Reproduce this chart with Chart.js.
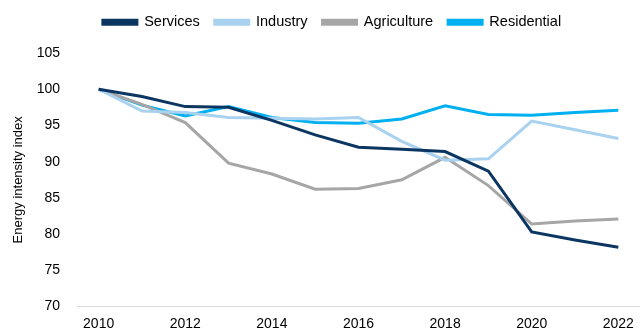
<!DOCTYPE html>
<html>
<head>
<meta charset="utf-8">
<script src="https://cdn.jsdelivr.net/npm/chart.js@4"></script>
<style>
  html, body { margin: 0; padding: 0; background: #fff; }
  #wrap { width: 643px; height: 332px; }
</style>
</head>
<body>
<div id="wrap"><canvas id="cntx_intensity"></canvas></div>
<script>
const years = ["2010","2011","2012","2013","2014","2015","2016","2017","2018","2019","2020","2021","2022"];
const services = [100, 99.0, 97.6, 97.5, 95.7, 93.7, 92.0, 91.7, 91.4, 88.7, 80.3, 79.2, 78.2];
const industry = [100, 97.0, 96.8, 96.1, 96.0, 95.9, 96.1, 92.8, 90.2, 90.4, 95.6, 94.4, 93.2];
const agriculture = [100, 97.9, 95.4, 89.8, 88.3, 86.2, 86.3, 87.5, 90.6, 86.7, 81.4, 81.8, 82.1];
const residential = [100, 97.8, 96.3, 97.6, 96.1, 95.4, 95.3, 95.9, 97.7, 96.5, 96.4, 96.8, 97.1];
const yTicks = [70, 75, 80, 85, 90, 95, 100, 105];

const font = "'Liberation Sans', Arial, sans-serif";
Chart.defaults.font.family = font;
Chart.defaults.color = "#000";

const makeSet = (label, data, colour) => ({
	label: label,
	data: data,
	borderColor: colour,
	backgroundColor: colour,
	borderWidth: 3,
	pointRadius: 0,
	tension: 0,
});

// nudge the legend right a little and leave a gap below it
const legendTweak = {
	id: "legendTweak",
	beforeInit: (chart) => {
		const fit = chart.legend.fit;
		chart.legend.fit = function () {
			fit.bind(chart.legend)();
			this.height += 13.5;
		};
	},
	afterLayout: (chart) => {
		chart.legend.left += 20;
	},
};

const canvas = document.querySelector("#cntx_intensity");
new Chart(canvas, {
	type: "line",
	data: {
		labels: years,
		datasets: [
			makeSet("Services", services, "#0b3661"),
			makeSet("Industry", industry, "#a9d1f0"),
			makeSet("Agriculture", agriculture, "#a6a6a6"),
			makeSet("Residential", residential, "#00b0f0"),
		],
	},
	plugins: [legendTweak],
	options: {
		responsive: true,
		maintainAspectRatio: false,
		animation: false,
		layout: { padding: { left: 4, right: 3, top: 0, bottom: 0 } },
		plugins: {
			legend: {
				display: true,
				position: "top",
				labels: {
					boxWidth: 34,
					boxHeight: 4,
					padding: 15,
					font: { size: 14.5 },
				},
			},
			tooltip: { enabled: false },
		},
		scales: {
			x: {
				offset: true,
				afterFit: (axis) => {
					axis.height = 25;
				},
				grid: { display: false, drawTicks: false },
				border: { display: true, color: "#d9d9d9", width: 1 },
				ticks: {
					autoSkip: false,
					maxRotation: 0,
					padding: 9,
					font: { size: 14 },
					callback: (val, i) => (i % 2 === 0 ? years[i] : ""),
				},
			},
			y: {
				min: 70,
				max: 105,
				afterBuildTicks: (axis) => {
					axis.ticks = yTicks.map((v) => ({ value: v }));
				},
				afterFit: (axis) => {
					axis.width = 73;
				},
				grid: { display: false, drawTicks: false },
				border: { display: false },
				ticks: { padding: 17, font: { size: 14 } },
				title: {
					display: true,
					text: "Energy intensity index",
					font: { size: 13 },
					padding: { top: 7, bottom: 0 },
				},
			},
		},
	},
});
</script>
</body>
</html>
